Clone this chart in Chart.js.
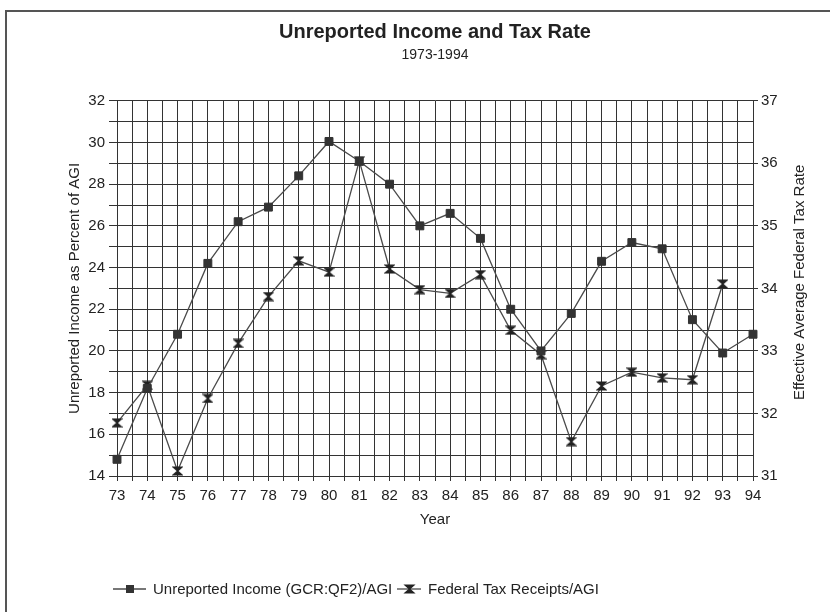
<!DOCTYPE html>
<html>
<head>
<meta charset="utf-8">
<script src="https://cdn.jsdelivr.net/npm/chart.js@4"></script>
<style>
  body { margin: 0; background: #fff; }
  #wrap { width: 830px; height: 612px; position: relative; }
</style>
</head>
<body>
<div id="wrap"><canvas id="myChart" width="830" height="612"></canvas></div>
<script>
// data
const years = [73, 74, 75, 76, 77, 78, 79, 80, 81, 82, 83, 84, 85, 86, 87, 88, 89, 90, 91, 92, 93, 94];
const unreportedIncome = [14.8, 18.2, 20.8, 24.2, 26.2, 26.9, 28.4, 30.05, 29.1, 28.0, 26.0, 26.6, 25.4, 22.0, 20.0, 21.8, 24.3, 25.2, 24.9, 21.5, 19.9, 20.8];
const taxReceipts = [31.85, 32.45, 31.08, 32.24, 33.12, 33.87, 34.44, 34.26, 36.04, 34.31, 33.98, 33.92, 34.22, 33.33, 32.94, 31.55, 32.44, 32.66, 32.57, 32.54, 34.07, null];
const seriesNames = ["Unreported Income (GCR:QF2)/AGI", "Federal Tax Receipts/AGI"];
const leftTickLabels = [14, 16, 18, 20, 22, 24, 26, 28, 30, 32];
const rightTickLabels = [31, 32, 33, 34, 35, 36, 37];

const FONT = "'Liberation Sans', Arial, sans-serif";
const ink = "#222";
const lineCol = "#4a4a4a";

// hourglass marker ("X" with bars)
function hourglass(withLine) {
  const c = document.createElement("canvas");
  c.width = withLine ? 24 : 11;
  c.height = 10;
  const g = c.getContext("2d");
  const ox = withLine ? 7 : 0;
  if (withLine) {
    g.strokeStyle = lineCol;
    g.lineWidth = 1.3;
    g.beginPath(); g.moveTo(0, 5); g.lineTo(24, 5); g.stroke();
  }
  g.fillStyle = "#222";
  g.strokeStyle = "#222";
  g.lineWidth = 1.2;
  g.beginPath();
  g.moveTo(ox + 1, 1); g.lineTo(ox + 10, 1);
  g.lineTo(ox + 5.5, 5);
  g.lineTo(ox + 10, 9); g.lineTo(ox + 1, 9);
  g.lineTo(ox + 5.5, 5);
  g.closePath();
  g.fill(); g.stroke();
  return c;
}
const hourMark = hourglass(false);
const hourLegend = hourglass(true);

const toPoints = (arr) => years.map((y, i) => ({ x: y, y: arr[i] }));

const extras = {
  id: "extras",
  beforeDraw(chart) {
    const ctx = chart.ctx;
    ctx.save();
    ctx.strokeStyle = "#555";
    ctx.lineWidth = 2;
    ctx.beginPath();
    ctx.moveTo(6, 612); ctx.lineTo(6, 11); ctx.lineTo(830, 11);
    ctx.stroke();
    ctx.restore();
  },
  afterDraw(chart) {
    const ctx = chart.ctx;
    const a = chart.chartArea;
    ctx.save();
    // right axis title reads upward
    ctx.fillStyle = ink;
    ctx.font = "15px " + FONT;
    ctx.textAlign = "center";
    ctx.textBaseline = "middle";
    ctx.translate(800, (a.top + a.bottom) / 2 - 6);
    ctx.rotate(-Math.PI / 2);
    ctx.fillText("Effective Average Federal Tax Rate", 0, 0);
    ctx.restore();

    // legend
    ctx.save();
    const ly = 589;
    ctx.strokeStyle = lineCol;
    ctx.lineWidth = 1.3;
    ctx.beginPath(); ctx.moveTo(113, ly); ctx.lineTo(146, ly); ctx.stroke();
    ctx.fillStyle = "#333";
    ctx.fillRect(126, ly - 4, 8, 8);
    ctx.font = "15px " + FONT;
    ctx.fillStyle = ink;
    ctx.textBaseline = "middle";
    ctx.textAlign = "left";
    ctx.fillText(seriesNames[0], 153, ly + 1);
    ctx.drawImage(hourLegend, 397, ly - 5);
    ctx.fillText(seriesNames[1], 428, ly + 1);
    ctx.restore();
  }
};

const ctx = document.getElementById("myChart").getContext("2d");
const chart = new Chart(ctx, {
  type: "line",
  data: {
    datasets: [
      {
        label: seriesNames[0],
        data: toPoints(unreportedIncome),
        yAxisID: "yLeft",
        borderColor: lineCol,
        borderWidth: 1.3,
        pointStyle: "rect",
        pointRadius: 5.6,
        pointHoverRadius: 5.6,
        pointBackgroundColor: "#333",
        pointBorderColor: "#333",
        pointBorderWidth: 1,
        tension: 0,
        clip: false
      },
      {
        label: seriesNames[1],
        data: toPoints(taxReceipts),
        yAxisID: "yRight",
        borderColor: lineCol,
        borderWidth: 1.3,
        pointStyle: hourMark,
        pointRadius: 5,
        tension: 0,
        spanGaps: false,
        clip: false
      }
    ]
  },
  options: {
    responsive: false,
    animation: false,
    events: [],
    layout: { padding: { left: 40, right: 0, top: 0, bottom: 0 } },
    plugins: {
      legend: { display: false },
      tooltip: { enabled: false },
      title: {
        display: true,
        text: "Unreported Income and Tax Rate",
        color: ink,
        font: { family: FONT, size: 20, weight: "bold" },
        padding: { top: 20, bottom: 0 }
      },
      subtitle: {
        display: true,
        text: "1973-1994",
        color: ink,
        font: { family: FONT, size: 14 },
        padding: { top: 3, bottom: 37 }
      }
    },
    scales: {
      x: {
        type: "linear",
        min: 73,
        max: 94,
        afterFit: (s) => { s.height = 136; },
        ticks: {
          stepSize: 0.5,
          autoSkip: false,
          maxRotation: 0,
          padding: 6,
          color: ink,
          font: { family: FONT, size: 15 },
          callback: (v) => (Number.isInteger(v) ? String(v) : "")
        },
        grid: { color: "#333", lineWidth: 1, tickLength: 5 },
        border: { color: "#333", width: 1 },
        title: {
          display: true,
          text: "Year",
          color: ink,
          font: { family: FONT, size: 15 },
          padding: { top: 0, bottom: 83 }
        }
      },
      yLeft: {
        position: "left",
        min: 14,
        max: 32,
        afterFit: (s) => { s.width = 77; },
        ticks: {
          stepSize: 1,
          autoSkip: false,
          padding: 4,
          color: ink,
          font: { family: FONT, size: 15 },
          callback: (v) => (leftTickLabels.includes(v) ? String(v) : "")
        },
        grid: { color: "#333", lineWidth: 1, tickLength: 8 },
        border: { color: "#333", width: 1 },
        title: {
          display: true,
          text: "Unreported Income as Percent of AGI",
          color: ink,
          font: { family: FONT, size: 15 },
          padding: { top: 26, bottom: 0 }
        }
      },
      yRight: {
        position: "right",
        min: 31,
        max: 37,
        afterFit: (s) => { s.width = 77; },
        ticks: {
          stepSize: 1,
          autoSkip: false,
          padding: 3,
          color: ink,
          font: { family: FONT, size: 15 },
          callback: (v) => (rightTickLabels.includes(v) ? String(v) : "")
        },
        grid: { drawOnChartArea: false, color: "#333", tickLength: 5 },
        border: { color: "#333", width: 1 }
      }
    }
  },
  plugins: [extras]
});
</script>
</body>
</html>
